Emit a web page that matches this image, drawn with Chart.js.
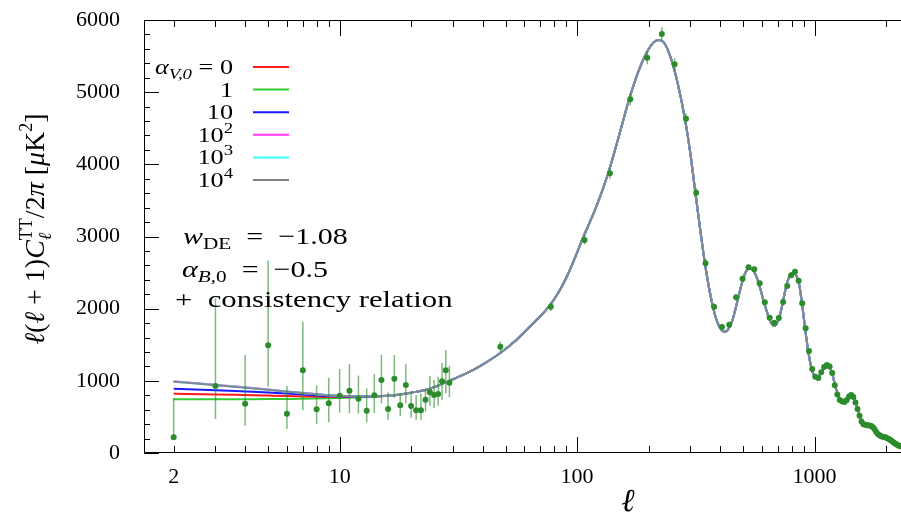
<!DOCTYPE html>
<html>
<head>
<meta charset="utf-8">
<script src="https://cdn.jsdelivr.net/npm/chart.js@4.4.1/dist/chart.umd.min.js"></script>
<style>
  html, body { margin: 0; padding: 0; background: #fff; overflow: hidden; }
  #wrap { width: 912px; height: 515px; }
</style>
</head>
<body>
<div id="wrap"><canvas id="clChart"></canvas></div>
<script>
// low-l data points (unbinned), with asymmetric errors
const lowEll = [2, 3, 4, 5, 6, 7, 8, 9, 10, 11, 12, 13, 14, 15, 16, 17, 18, 19, 20, 21, 22, 23, 24, 25, 26, 27, 28, 29];
const lowD = [218, 928, 683, 1492, 545, 1146, 605, 688, 794, 863, 753, 587, 799, 1012, 610, 1030, 660, 942, 651, 591, 591, 739, 841, 804, 817, 993, 1146, 975];
const lowUp = [762, 2144, 1358, 2665, 928, 1820, 938, 1044, 1164, 1233, 1072, 896, 1095, 1362, 841, 1358, 827, 1233, 841, 804, 827, 882, 1072, 1012, 1058, 1251, 1427, 1210];
const lowDown = [195, 471, 378, 919, 333, 591, 402, 425, 559, 550, 545, 425, 554, 688, 457, 767, 513, 688, 490, 457, 457, 573, 656, 619, 656, 734, 827, 772];

// binned high-l data points
const binEll = [47.5, 77.5, 107.5, 137.5, 167.5, 197.5, 227.5, 257.5, 287.5, 317.5, 347.5, 377.5, 407.5, 437.5, 467.5, 497.5, 527.5, 557.5, 587.5, 617.5,
  647.5, 677.5, 707.5, 737.5, 767.5, 797.5, 827.5, 857.5, 887.5, 917.5, 947.5, 977.5, 1007.5, 1037.5, 1067.5, 1097.5, 1127.5, 1157.5, 1187.5, 1217.5,
  1247.5, 1277.5, 1307.5, 1337.5, 1367.5, 1397.5, 1427.5, 1457.5, 1487.5, 1517.5, 1547.5, 1577.5, 1607.5, 1637.5, 1667.5, 1697.5, 1727.5, 1757.5, 1787.5, 1817.5,
  1847.5, 1877.5, 1907.5, 1937.5, 1967.5, 1997.5, 2027.5, 2057.5, 2087.5, 2117.5, 2147.5, 2177.5, 2207.5, 2237.5, 2267.5, 2297.5];
const binD = [1473, 2027, 2952, 3876, 4901, 5478, 5806, 5386, 4633, 3607, 2629, 2027, 1746, 1778, 2157, 2416, 2573, 2545, 2351, 2088,
  1875, 1806, 1871, 2092, 2314, 2462, 2513, 2388, 2074, 1728, 1413, 1164, 1055, 1040, 1120, 1190, 1220, 1200, 1110, 940,
  810, 735, 712, 705, 735, 782, 803, 775, 700, 610, 515, 435, 400, 390, 384, 380, 376, 360, 332, 295,
  265, 245, 233, 226, 221, 216, 206, 194, 181, 165, 148, 134, 121, 110, 100, 92];
const binErr = [70, 60, 65, 75, 85, 90, 95, 85, 75, 65, 55, 45, 40, 40, 40, 40, 40, 38, 36, 34,
  32, 30, 30, 30, 30, 30, 30, 28, 26, 24, 22, 20, 20, 20, 20, 20, 20, 20, 20, 18,
  18, 18, 18, 18, 18, 18, 18, 18, 18, 16, 16, 16, 16, 16, 16, 16, 16, 16, 16, 16,
  16, 16, 16, 16, 16, 16, 16, 16, 16, 16, 16, 16, 16, 16, 16, 16];

// model curves; variants differ only in the first 11 entries
const modelEll = [2, 3, 4, 5, 6, 7, 8, 9, 10, 12, 14, 17, 20, 24, 29, 35, 40, 47.5, 55, 62,
  70, 76, 83, 90, 97, 105, 120, 135, 150, 165, 180, 195, 210, 221, 235, 250, 265, 285, 300, 314,
  330, 345, 360, 375, 390, 405, 416, 430, 450, 470, 495, 515, 535, 555, 580, 610, 640, 660, 677, 700,
  720, 745, 770, 795, 816, 840, 860, 885, 910, 940, 970, 1000, 1025, 1060, 1100, 1130, 1160, 1190, 1220, 1250,
  1280, 1320, 1350, 1390, 1425, 1460, 1500, 1540, 1580, 1620, 1680, 1740, 1790, 1840, 1900, 1990, 2070, 2160, 2270, 2400, 2500];
const modelGray = [988, 940, 905, 875, 850, 830, 815, 800, 792, 785, 786, 800, 835, 890, 1000, 1120, 1225, 1385, 1555, 1720,
  1895, 2027, 2210, 2425, 2670, 2952, 3400, 3870, 4390, 4880, 5260, 5530, 5690, 5723, 5660, 5440, 5130, 4620, 4150, 3640,
  3100, 2640, 2280, 2000, 1810, 1710, 1681, 1700, 1830, 2060, 2360, 2520, 2560, 2520, 2370, 2110, 1890, 1790, 1760, 1820,
  1950, 2180, 2380, 2480, 2500, 2450, 2350, 2080, 1760, 1420, 1180, 1060, 1035, 1100, 1180, 1210, 1180, 1090, 940, 830,
  740, 705, 715, 770, 800, 765, 670, 550, 440, 395, 380, 370, 330, 275, 238, 215, 190, 145, 100, 75, 60];
const lowRed = [822, 812, 803, 796, 790, 784, 779, 777, 775, 778, 783];
const lowGreen = [744, 745, 746, 747, 749, 751, 754, 758, 762, 772, 782];
const lowBlue = [891, 870, 852, 838, 823, 810, 797, 789, 782, 780, 784];
const lowMagenta = [995, 946, 910, 879, 853, 832, 816, 801, 793, 785, 786];
const lowCyan = [990, 942, 906, 876, 851, 831, 815, 800, 792, 785, 786];

const legendLabels = [
  [['α', 21, 0, 'italic'], ['V,0', 15, 5, 'italic'], [' = 0', 21, 0, '']],
  [['1', 21, 0, '']],
  [['10', 21, 0, '']],
  [['10', 21, 0, ''], ['2', 15, -9, '']],
  [['10', 21, 0, ''], ['3', 15, -9, '']],
  [['10', 21, 0, ''], ['4', 15, -9, '']]
];
const legendColors = ['#ff1a1a', '#33cc33', '#1a1aff', '#ff33ff', '#33ffff', '#808080'];

const xTickVals = [2, 3, 4, 5, 6, 7, 8, 9, 10, 20, 30, 40, 50, 60, 70, 80, 90, 100, 200, 300, 400, 500, 600, 700, 800, 900, 1000, 2000];
const xTickLabels = [2, 10, 100, 1000];
const xMajor = [10, 100, 1000];

const serif = '"Liberation Serif", "DejaVu Serif", serif';

function fontOf(p) {
  return (p[3] || '') + ' ' + p[1] + 'px ' + serif;
}

// draws a run of text pieces [text, size, dy, style, noAdvance], stretched horizontally by sx
function drawRich(ctx, parts, x, y, align, sx) {
  sx = sx || 1;
  let w = 0;
  parts.forEach(p => { if (!p[4]) { ctx.font = fontOf(p); w += ctx.measureText(p[0]).width; } });
  w *= sx;
  let cx = align === 'right' ? x - w : align === 'center' ? x - w / 2 : x;
  ctx.save();
  ctx.translate(cx, y);
  ctx.scale(sx, 1);
  ctx.textAlign = 'left';
  ctx.textBaseline = 'alphabetic';
  let ox = 0;
  parts.forEach(p => {
    ctx.font = fontOf(p);
    ctx.fillText(p[0], ox, p[2] || 0);
    if (!p[4]) ox += ctx.measureText(p[0]).width;
  });
  ctx.restore();
}

function withLow(low) {
  return modelEll.map((l, i) => ({ x: l, y: i < low.length ? low[i] : modelGray[i] }));
}

const errorBars = {
  id: 'errorBars',
  beforeDatasetDraw(chart, args) {
    if (args.index !== 0) return;
    const { ctx, chartArea, scales: { x, y } } = chart;
    ctx.save();
    ctx.beginPath();
    ctx.rect(chartArea.left, chartArea.top, chartArea.right - chartArea.left, chartArea.bottom - chartArea.top);
    ctx.clip();
    ctx.strokeStyle = 'rgba(40, 140, 40, 0.6)';
    ctx.lineWidth = 1.5;
    lowEll.forEach((l, i) => {
      const px = x.getPixelForValue(l);
      ctx.beginPath();
      ctx.moveTo(px, y.getPixelForValue(lowUp[i]));
      ctx.lineTo(px, y.getPixelForValue(lowDown[i]));
      ctx.stroke();
    });
    binEll.forEach((l, i) => {
      const px = x.getPixelForValue(l);
      ctx.beginPath();
      ctx.moveTo(px, y.getPixelForValue(binD[i] + binErr[i]));
      ctx.lineTo(px, y.getPixelForValue(binD[i] - binErr[i]));
      ctx.stroke();
    });
    ctx.restore();
  }
};

const frameAndText = {
  id: 'frameAndText',
  afterDraw(chart) {
    const { ctx, chartArea: a, scales: { x, y } } = chart;
    ctx.save();
    ctx.strokeStyle = '#000';
    ctx.lineWidth = 1;
    ctx.beginPath();
    ctx.moveTo(a.right, a.top + 0.5);
    ctx.lineTo(a.left + 0.5, a.top + 0.5);
    ctx.lineTo(a.left + 0.5, a.bottom - 0.5);
    ctx.lineTo(a.right, a.bottom - 0.5);
    ctx.stroke();

    // inward ticks
    ctx.beginPath();
    xTickVals.forEach(v => {
      const px = Math.round(x.getPixelForValue(v)) + 0.5;
      const len = xMajor.includes(v) ? 16 : 7;
      ctx.moveTo(px, a.bottom);
      ctx.lineTo(px, a.bottom - len);
      ctx.moveTo(px, a.top);
      ctx.lineTo(px, a.top + len);
    });
    y.ticks.forEach(t => {
      const py = Math.round(y.getPixelForValue(t.value)) + 0.5;
      const len = t.value % 1000 === 0 ? 15 : 6;
      ctx.moveTo(a.left, py);
      ctx.lineTo(a.left + len, py);
    });
    ctx.stroke();

    ctx.fillStyle = '#000';
    // legend
    legendLabels.forEach((parts, i) => {
      const ly = 67 + i * 22.6;
      drawRich(ctx, parts, 233, ly + 7, 'right', 1.25);
      ctx.strokeStyle = legendColors[i];
      ctx.lineWidth = 2;
      ctx.beginPath();
      ctx.moveTo(253, ly);
      ctx.lineTo(289, ly);
      ctx.stroke();
    });

    // annotation
    drawRich(ctx, [['w', 24, 0, 'italic'], ['DE', 17, 5, ''], ['  =  −1.08', 24, 0, '']], 183, 244, 'left', 1.25);
    drawRich(ctx, [['α', 24, 0, 'italic'], ['B', 17, 5, 'italic'], [',0', 17, 5, ''], ['  =  −0.5', 24, 0, '']], 182, 277, 'left', 1.25);
    drawRich(ctx, [['+  consistency relation', 24, 0, '']], 175, 307, 'left', 1.28);

    // axis titles
    drawRich(ctx, [['ℓ', 32, 0, 'italic']], 628, 511, 'center');
    ctx.translate(44, 229);
    ctx.rotate(-Math.PI / 2);
    drawRich(ctx, [
      ['ℓ', 28, 0, 'italic'], ['(', 28, 0, ''], ['ℓ', 28, 0, 'italic'], [' + 1)', 28, 0, ''],
      ['C', 28, 0, 'italic'], ['ℓ', 18, 7, 'italic', true], ['TT', 18, -12, ''],
      ['/2', 28, 0, ''], ['π', 28, 0, 'italic'], [' [', 28, 0, ''], ['μ', 28, 0, 'italic'],
      ['K', 28, 0, ''], ['2', 18, -12, ''], [']', 28, 0, '']
    ], 0, 0, 'center', 1.0);
    ctx.restore();
  }
};

const lineStyle = (label, color, data) => ({
  type: 'line',
  label: label,
  data: data,
  borderColor: color,
  borderWidth: 2,
  pointRadius: 0,
  fill: false,
  cubicInterpolationMode: 'monotone'
});

new Chart(document.getElementById('clChart'), {
  type: 'scatter',
  data: {
    datasets: [
      {
        label: 'data',
        data: lowEll.map((l, i) => ({ x: l, y: lowD[i] })).concat(binEll.map((l, i) => ({ x: l, y: binD[i] }))),
        backgroundColor: '#2c8c2c',
        borderWidth: 0,
        pointRadius: 3,
        pointHoverRadius: 3
      },
      lineStyle('10^4', '#808892', withLow([])),
      lineStyle('10^3', '#33ffff', withLow(lowCyan)),
      lineStyle('10^2', '#ff33ff', withLow(lowMagenta)),
      lineStyle('10', '#1a1aff', withLow(lowBlue)),
      lineStyle('0', '#ff1a1a', withLow(lowRed)),
      lineStyle('1', '#33cc33', withLow(lowGreen))
    ]
  },
  options: {
    responsive: true,
    maintainAspectRatio: false,
    animation: false,
    layout: { padding: { top: 20, right: 2, left: 0, bottom: 0 } },
    scales: {
      x: {
        type: 'logarithmic',
        min: 1.5,
        max: 2500,
        bounds: 'data',
        grid: { display: false, drawTicks: false },
        border: { display: false },
        afterBuildTicks: (scale) => {
          scale.ticks = xTickVals.map(v => ({ value: v }));
        },
        afterFit: (scale) => {
          scale.height = 62;
          scale.paddingLeft = 0;
          scale.paddingRight = 0;
        },
        ticks: {
          autoSkip: false,
          maxRotation: 0,
          padding: 11,
          color: '#000',
          font: { family: serif, size: 22 },
          callback: (value) => xTickLabels.includes(value) ? String(value) : ''
        }
      },
      y: {
        min: 0,
        max: 6000,
        grid: { display: false, drawTicks: false },
        border: { display: false },
        afterFit: (scale) => {
          scale.width = 144;
          scale.paddingTop = 0;
          scale.paddingBottom = 0;
        },
        ticks: {
          stepSize: 200,
          autoSkip: false,
          padding: 24,
          color: '#000',
          font: { family: serif, size: 22 },
          callback: (value) => value % 1000 === 0 ? String(value) : ''
        }
      }
    },
    plugins: {
      legend: { display: false },
      tooltip: { enabled: false }
    }
  },
  plugins: [errorBars, frameAndText]
});
</script>
</body>
</html>
